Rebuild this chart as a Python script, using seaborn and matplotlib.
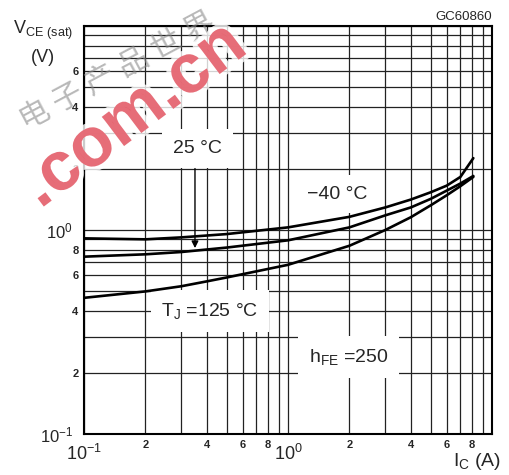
import numpy as np
import pandas as pd
import matplotlib
matplotlib.use('Agg')
import matplotlib.pyplot as plt
import matplotlib.ticker as mticker
import matplotlib.patheffects as pe
import seaborn as sns

# curve data (I_C in A, V_CE(sat) in V)
ic_m40 = [0.1, 0.2, 0.3, 0.5, 1, 2, 3, 4, 5, 6, 7, 8.1]
vce_m40 = [0.91, 0.90, 0.92, 0.955, 1.03, 1.16, 1.29, 1.41, 1.53, 1.65, 1.82, 2.25]

ic_25 = [0.1, 0.2, 0.3, 0.5, 1, 2, 3, 4, 5, 6, 7, 8.1]
vce_25 = [0.74, 0.76, 0.78, 0.82, 0.89, 1.03, 1.18, 1.29, 1.42, 1.56, 1.69, 1.84]

ic_125 = [0.1, 0.2, 0.3, 0.4, 0.5, 1, 2, 3, 4, 5, 6, 7, 8.1]
vce_125 = [0.465, 0.50, 0.53, 0.56, 0.585, 0.675, 0.837, 1.0, 1.155, 1.32, 1.48, 1.64, 1.82]

temps = ['-40', '25', '125']

sns.set_style('white')
plt.rcParams['font.family'] = ['Liberation Sans', 'DejaVu Sans']
plt.rcParams['mathtext.default'] = 'regular'

df = pd.concat([
    pd.DataFrame({'Ic': ic_m40, 'Vce': vce_m40, 'T': temps[0]}),
    pd.DataFrame({'Ic': ic_25, 'Vce': vce_25, 'T': temps[1]}),
    pd.DataFrame({'Ic': ic_125, 'Vce': vce_125, 'T': temps[2]}),
])

fig = plt.figure(figsize=(5.09, 4.75), dpi=100)
ax = fig.add_axes([0.165, 0.0863, 0.8016, 0.859])
ax.set_xscale('log')
ax.set_yscale('log')

sns.lineplot(data=df, x='Ic', y='Vce', hue='T', units='T', estimator=None,
             palette=['black'] * 3, linewidth=1.9, legend=False, ax=ax,
             zorder=2, sort=True)

ax.set_xlim(0.1, 10)
ax.set_ylim(0.1, 10)
ax.set_xlabel('')
ax.set_ylabel('')

# log grid, every 1..9
for axis in (ax.xaxis, ax.yaxis):
    axis.set_major_locator(mticker.LogLocator(base=10))
    axis.set_minor_locator(mticker.LogLocator(base=10, subs=np.arange(2, 10)))


def major_fmt(v, pos):
    if v >= 9.9:
        return ''
    e = int(round(np.log10(v)))
    return r'$10^{%d}$' % e


def minor_fmt_x(v, pos):
    m = int(round(v / 10 ** np.floor(np.log10(v) + 1e-9)))
    return str(m) if m in (2, 4, 6, 8) else ''


def minor_fmt_y(v, pos):
    m = int(round(v / 10 ** np.floor(np.log10(v) + 1e-9)))
    if m == 8 and v > 5:
        return ''
    return str(m) if m in (2, 4, 6, 8) else ''


ax.xaxis.set_major_formatter(mticker.FuncFormatter(major_fmt))
ax.yaxis.set_major_formatter(mticker.FuncFormatter(major_fmt))
ax.xaxis.set_minor_formatter(mticker.FuncFormatter(minor_fmt_x))
ax.yaxis.set_minor_formatter(mticker.FuncFormatter(minor_fmt_y))

ax.tick_params(which='both', length=0)
ax.tick_params(axis='x', which='major', labelsize=13, pad=7)
ax.tick_params(axis='x', which='minor', labelsize=8, pad=4)
ax.tick_params(axis='y', which='major', labelsize=12, pad=8)
ax.tick_params(axis='y', which='minor', labelsize=8, pad=4)
plt.setp(ax.get_xticklabels(minor=True), fontweight='bold')
plt.setp(ax.get_yticklabels(minor=True), fontweight='bold')

ax.grid(which='both', color='#222222', linewidth=0.9)
ax.set_axisbelow(True)
for s in ax.spines.values():
    s.set_color('black')
    s.set_linewidth(1.5)

# curve labels, white boxes hide the grid behind them
box = dict(boxstyle='square,pad=0.55', facecolor='white', edgecolor='none')
ax.text(0.36, 2.51, '25 °C', fontsize=14, ha='center', va='center', bbox=box, zorder=1.5)
ax.text(1.74, 1.50, '\u221240 °C', fontsize=14, ha='center', va='center', bbox=box, zorder=1.5)
ax.text(0.415, 0.40, '$T_J$ =125 °C', fontsize=14, ha='center', va='center', bbox=box, zorder=1.5)
ax.text(1.99, 0.239, '$h_{FE}$ =250', fontsize=14, ha='center', va='center', bbox=box, zorder=1.5)
ax.annotate('', xy=(0.35, 0.815), xytext=(0.35, 2.0),
            arrowprops=dict(arrowstyle='-|>', color='black', lw=1.0, mutation_scale=10,
                            shrinkA=0, shrinkB=0), zorder=2)

# axis titles as in the datasheet
fig.text(13 / 509, 1 - 19 / 475, r'$V_{CE\ (sat)}$', fontsize=13, ha='left', va='top')
fig.text(43 / 509, 1 - 57 / 475, '(V)', fontsize=13, ha='center', va='center')
fig.text(501 / 509, 1 - 462 / 475, '$I_C$ (A)', fontsize=14, ha='right', va='center')
fig.text(492 / 509, 1 - 17 / 475, 'GC60860', fontsize=9.5, ha='right', va='center')

# site watermark
fig.text(118 / 509, 1 - 72 / 475, '电 子 产 品 世 界', fontsize=22, rotation=28,
         ha='center', va='center', color='#8a8a8a', alpha=0.6,
         family=['Noto Sans CJK SC', 'DejaVu Sans'], zorder=10)
fig.text(134 / 509, 1 - 116 / 475, '.com.cn', fontsize=50, fontweight='bold', rotation=37,
         ha='center', va='center', color='#e4606c', alpha=0.9, zorder=11,
         path_effects=[pe.withStroke(linewidth=7, foreground='white', alpha=0.8)])

fig.savefig('out.png', dpi=100)
